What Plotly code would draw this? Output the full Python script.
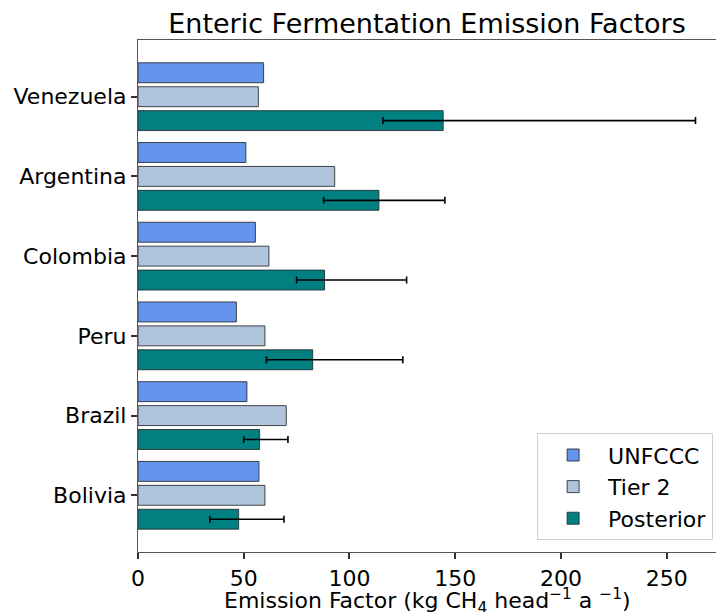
import plotly.graph_objects as go

# Countries listed top to bottom
countries = ["Venezuela", "Argentina", "Colombia", "Peru", "Brazil", "Bolivia"]

# Emission factors (kg CH4 head^-1 a^-1)
unfccc = [59.4, 51.0, 55.5, 46.5, 51.5, 57.2]
tier2 = [56.9, 93.0, 61.9, 60.0, 70.1, 60.0]
posterior = [144.3, 113.9, 88.2, 82.6, 57.5, 47.6]

# Posterior uncertainty range
posterior_low = [115.8, 87.8, 75.0, 60.7, 50.0, 34.0]
posterior_high = [263.6, 145.1, 127.0, 125.2, 70.9, 69.0]

err_plus = [h - v for h, v in zip(posterior_high, posterior)]
err_minus = [v - l for v, l in zip(posterior, posterior_low)]

FONT = "DejaVu Sans"
FS = 22
edge = dict(color="rgba(40,40,40,0.85)", width=1)

fig = go.Figure()
fig.add_trace(go.Bar(
    name="UNFCCC", y=countries, x=unfccc, orientation="h",
    marker=dict(color="#6495ED", line=edge), legendgroup="a",
))
fig.add_trace(go.Bar(
    name="Tier 2", y=countries, x=tier2, orientation="h",
    marker=dict(color="#B0C4DE", line=edge), legendgroup="b",
))
fig.add_trace(go.Bar(
    name="Posterior", y=countries, x=posterior, orientation="h",
    marker=dict(color="#008080", line=edge), legendgroup="c",
    error_x=dict(type="data", symmetric=False, array=err_plus,
                 arrayminus=err_minus, color="black", thickness=1.6,
                 width=3.5),
))

# x-axis title, placed below the tick labels
fig.add_annotation(
    text="Emission Factor (kg CH<sub>4</sub> head<sup>\u22121</sup> a <sup>\u22121</sup>)",
    xref="paper", yref="paper", x=0.5, y=-0.096,
    xanchor="center", yanchor="middle", showarrow=False,
    font=dict(size=FS, family=FONT, color="black"),
)

fig.update_layout(
    width=717, height=612,
    margin=dict(l=138, r=1, t=40, b=60),
    paper_bgcolor="white", plot_bgcolor="white",
    barmode="group", bargap=0.1, bargroupgap=0.167,
    font=dict(family=FONT, color="black", size=FS),
    title=dict(text="Enteric Fermentation Emission Factors",
               x=0.5, xref="paper", xanchor="center",
               y=1 - 24 / 612, yref="container", yanchor="middle",
               font=dict(size=27, family=FONT)),
    xaxis=dict(
        range=[0, 273.3], tickvals=[0, 50, 100, 150, 200, 250],
        ticks="outside", ticklen=6, tickwidth=1.5, tickcolor="#333",
        showline=True, mirror=True, linecolor="#555", linewidth=1.2,
        showgrid=False, zeroline=False,
        tickfont=dict(size=FS),
    ),
    yaxis=dict(
        range=[5.711, -0.711],
        ticks="outside", ticklen=6, tickwidth=1.5, tickcolor="#333",
        showline=True, linecolor="#555", linewidth=1.2,
        showgrid=False, zeroline=False,
        tickfont=dict(size=FS),
    ),
    legend=dict(
        x=0.995, y=0.023, xanchor="right", yanchor="bottom",
        bgcolor="white", bordercolor="#d0d0d0", borderwidth=1,
        font=dict(size=FS), tracegroupgap=5, traceorder="normal",
        itemwidth=60,
    ),
)

fig.write_html("out.html")
